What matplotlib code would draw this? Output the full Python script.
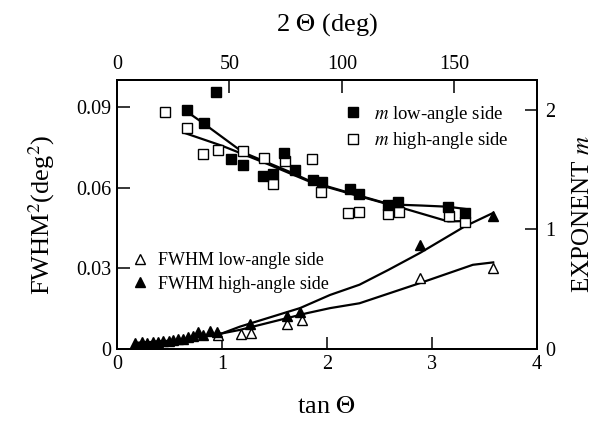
import numpy as np
import matplotlib.pyplot as plt

plt.rcParams['font.family'] = ['Liberation Serif', 'DejaVu Serif']
plt.rcParams['mathtext.fontset'] = 'stix'

# --- data ---
# exponent m (right axis), squares
m_low_x = [0.664, 0.829, 0.943, 1.083, 1.197, 1.394, 1.49, 1.594, 1.695, 1.864,
           1.95, 2.22, 2.31, 2.585, 2.68, 3.155, 3.314]
m_low = [2.00, 1.89, 2.15, 1.59, 1.54, 1.445, 1.46, 1.64, 1.50, 1.41,
         1.395, 1.34, 1.30, 1.205, 1.23, 1.19, 1.14]
m_high_x = [0.457, 0.67, 0.816, 0.965, 1.197, 1.40, 1.49, 1.60, 1.86, 1.943,
            2.20, 2.31, 2.58, 2.69, 3.165, 3.314]
m_high = [1.98, 1.85, 1.63, 1.665, 1.66, 1.60, 1.38, 1.575, 1.59, 1.31,
          1.14, 1.15, 1.13, 1.15, 1.11, 1.06]

# FWHM^2 (left axis), triangles
fw_high_x = [0.171, 0.235, 0.29, 0.34, 0.39, 0.44, 0.50, 0.536, 0.584, 0.63,
             0.68, 0.727, 0.775, 0.82, 0.886, 0.95, 1.267, 1.616, 1.743, 2.89, 3.584]
fw_high = [0.0024, 0.0026, 0.0024, 0.0027, 0.0026, 0.0030, 0.0029, 0.0033, 0.0036, 0.0036,
           0.0044, 0.0047, 0.0062, 0.0052, 0.0068, 0.0062, 0.0092, 0.0123, 0.0139, 0.0388, 0.0493]
fw_low_x = [0.965, 1.178, 1.273, 1.616, 1.759, 2.89, 3.584]
fw_low = [0.0052, 0.0056, 0.0061, 0.0094, 0.0108, 0.0263, 0.0301]

# fitted curves
fit_mlow_x = [0.65, 0.82, 1.2, 1.65, 1.9, 2.22, 2.585, 2.9, 3.155, 3.33]
fit_mlow = [1.995, 1.89, 1.645, 1.48, 1.38, 1.30, 1.21, 1.20, 1.19, 1.17]
fit_mhigh_x = [0.65, 1.0, 1.4, 1.807, 2.2, 2.6, 3.155, 3.31]
fit_mhigh = [1.805, 1.70, 1.56, 1.41, 1.31, 1.21, 1.067, 1.07]
fit_fhigh_x = [0.17, 0.6, 1.0, 1.17, 1.743, 2.03, 2.31, 2.585, 2.886, 3.314, 3.584]
fit_fhigh = [0.0022, 0.0033, 0.0058, 0.0083, 0.0152, 0.0201, 0.0239, 0.0294, 0.0357, 0.0456, 0.0506]
fit_flow_x = [0.17, 0.6, 1.0, 1.17, 1.807, 2.03, 2.31, 2.886, 3.39, 3.584]
fit_flow = [0.0022, 0.0033, 0.0058, 0.0071, 0.0133, 0.0152, 0.0170, 0.0245, 0.0313, 0.0322]

fig = plt.figure(figsize=(5.99, 4.21), dpi=100)
ax = fig.add_axes([0.1953, 0.171, 0.701, 0.639])
ax2 = ax.twinx()
ax3 = ax.twiny()

lw = 1.6
ax.plot(fit_fhigh_x, fit_fhigh, 'k-', lw=lw)
ax.plot(fit_flow_x, fit_flow, 'k-', lw=lw)
h_tri_open, = ax.plot(fw_low_x, fw_low, '^', ms=7.5, mfc='white', mec='k', mew=1.0, ls='none')
h_tri_fill, = ax.plot(fw_high_x, fw_high, '^', ms=7.5, color='k', ls='none')

ax2.plot(fit_mlow_x, fit_mlow, 'k-', lw=lw)
ax2.plot(fit_mhigh_x, fit_mhigh, 'k-', lw=lw)
h_sq_open, = ax2.plot(m_high_x, m_high, 's', ms=7.5, mfc='white', mec='k', mew=1.0, ls='none')
h_sq_fill, = ax2.plot(m_low_x, m_low, 's', ms=7.5, color='k', ls='none')

ax.set_xlim(0, 4)
ax.set_ylim(0, 0.1)
ax2.set_ylim(0, 2.25)
ax3.set_xlim(0, 186.7)

ax.set_xticks([0, 1, 2, 3, 4])
ax.set_yticks([0, 0.03, 0.06, 0.09])
ax.set_yticklabels(['0', '0.03', '0.06', '0.09'])
ax2.set_yticks([0, 1, 2])
ax3.set_xticks([0, 50, 100, 150])

for a in (ax, ax2, ax3):
    a.tick_params(direction='in', length=9, width=1.1, labelsize=14.5, pad=4)
    for s in a.spines.values():
        s.set_linewidth(1.3)
ax2.tick_params(pad=6)

ax.set_xlabel(r'tan $\Theta$', fontsize=19, labelpad=16)
ax3.set_xlabel(r'2 $\Theta$ (deg)', fontsize=19, labelpad=18)
ax.set_ylabel(r'FWHM$^2$(deg$^2$)', fontsize=19, labelpad=14)
ax2.set_ylabel(r'EXPONENT $m$', fontsize=18, labelpad=12)

ax2.legend([h_sq_fill, h_sq_open], [r'$m$ low-angle side', r'$m$ high-angle side'],
           loc='upper left', bbox_to_anchor=(0.50, 0.975), frameon=False,
           fontsize=13.5, handlelength=1.0, handletextpad=0.6, labelspacing=0.3)
ax.legend([h_tri_open, h_tri_fill], ['FWHM low-angle side', 'FWHM high-angle side'],
          loc='upper left', bbox_to_anchor=(-0.005, 0.42), frameon=False,
          fontsize=13, handlelength=1.0, handletextpad=0.5, labelspacing=0.35)

plt.savefig('out.png', dpi=100)
